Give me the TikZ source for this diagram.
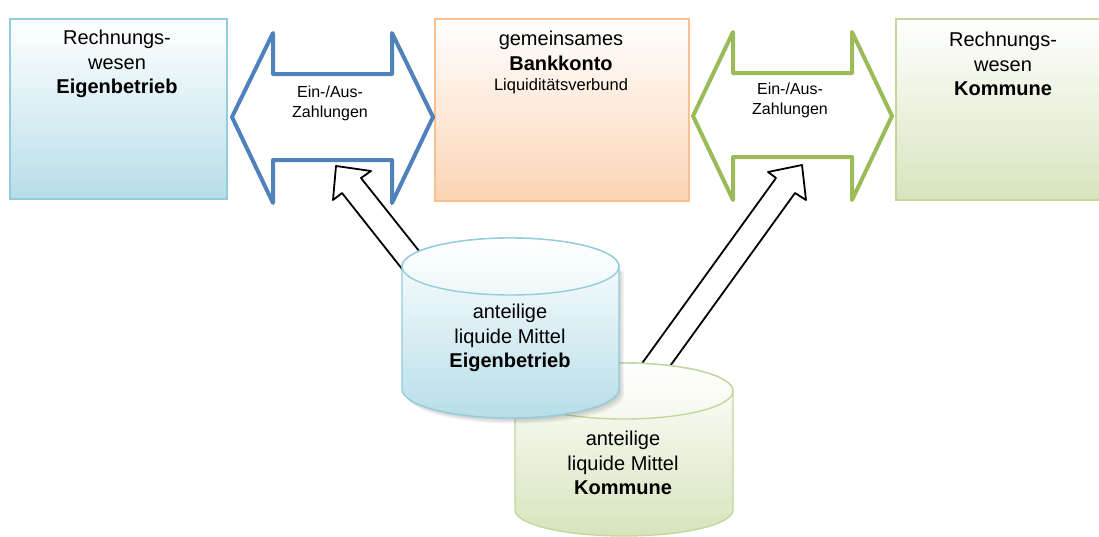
\documentclass[tikz,border=0pt]{standalone}
\usepackage{fontspec}
\setmainfont{Liberation Sans}
\definecolor{ebline}{HTML}{93CDDD}
\definecolor{ebfill}{HTML}{B7DEE8}
\definecolor{bkline}{HTML}{FAC090}
\definecolor{bkfill}{HTML}{FBD4B4}
\definecolor{koline}{HTML}{C3D69B}
\definecolor{kofill}{HTML}{D7E4BD}
\definecolor{flowblue}{HTML}{4F81BD}
\definecolor{flowgreen}{HTML}{9BBB59}
\begin{document}
\begin{tikzpicture}[x=1pt,y=1pt,
  panel/.style={draw, line width=1.6pt, top color=white, inner sep=0pt},
  twoway/.style={line width=4pt, line join=round, fill=white},
  feed/.style={draw=black, line width=1.8pt, line join=round, fill=white},
  bigtext/.style={font=\fontsize{20}{24.5}\selectfont, align=center, inner sep=0pt},
  flowtext/.style={font=\fontsize{16}{20}\selectfont, align=center, inner sep=0pt}]
\useasboundingbox (0,0) rectangle (1099,-536);
\clip (0,0) rectangle (1099,-536);

% three account panels
\node[panel, draw=ebline, bottom color=ebfill, minimum width=217, minimum height=180] (rweb) at (118.5,-109) {};
\node[panel, draw=bkline, bottom color=bkfill, minimum width=254, minimum height=182] (bank) at (562,-110) {};
\node[panel, draw=koline, bottom color=kofill, minimum width=214, minimum height=181] (rwko) at (1003,-109.5) {};

\node[bigtext] (trweb) at (117,-64) {Rechnungs-\\wesen\\\textbf{Eigenbetrieb}};
\node[bigtext] (tbank) at (561,-51) {gemeinsames\\\textbf{Bankkonto}};
\node[font=\fontsize{16.5}{20}\selectfont, inner sep=0pt] (tliq) at (561,-86) {Liquiditätsverbund};
\node[bigtext] (trwko) at (1003,-64) {Rechnungs-\\wesen\\\textbf{Kommune}};

% payment flows between the panels
\draw[twoway, draw=flowblue] (232,-117) -- (273,-33) -- (273,-74) -- (392,-74) -- (392,-33)
  -- (433,-117) -- (392,-203) -- (392,-160) -- (273,-160) -- (273,-203) -- cycle;
\node[flowtext] (flwl) at (330,-103) {Ein-/Aus-\\Zahlungen};
\draw[twoway, draw=flowgreen] (693,-116) -- (733,-32) -- (733,-73) -- (852,-73) -- (852,-32)
  -- (892,-116) -- (852,-200) -- (852,-157) -- (733,-157) -- (733,-200) -- cycle;
\node[flowtext] (flwr) at (790,-100) {Ein-/Aus-\\Zahlungen};

% feeding arrows from the liquid funds
\draw[feed] (410,-279) -- (342,-193) -- (333,-200) -- (336,-166) -- (371,-171) -- (361,-178) -- (427,-261) -- cycle;
\draw[feed] (630,-380) -- (776,-178) -- (768,-172) -- (802,-165) -- (806,-200) -- (795,-193) -- (660,-380) -- cycle;

% cylinder: Kommune
\path[draw=koline, line width=1.4pt, top color=white, bottom color=kofill]
  (515,-391) -- (515,-510) arc[start angle=180, end angle=360, x radius=109, y radius=26]
  -- (733,-391) arc[start angle=0, end angle=180, x radius=109, y radius=28] -- cycle;
\draw[koline, line width=1.4pt, top color=white, bottom color=kofill!25] (624,-391) ellipse[x radius=109, y radius=28];
\node[bigtext] (cyko) at (623,-463) {anteilige\\liquide Mittel\\\textbf{Kommune}};

% soft shadow under the Eigenbetrieb cylinder
\foreach \s in {2,4,6,8}{
  \fill[black, opacity=0.05]
    ([xshift=\s*0.6, yshift=-\s*0.7]402,-266.5) -- ([xshift=\s*0.6, yshift=-\s*0.7]402,-389)
    arc[start angle=180, end angle=360, x radius=108.5, y radius=29]
    -- ([xshift=\s*0.6, yshift=-\s*0.7]619,-266.5) -- cycle;
}

% cylinder: Eigenbetrieb
\path[draw=ebline, line width=1.4pt, top color=white, bottom color=ebfill]
  (402,-266.5) -- (402,-389) arc[start angle=180, end angle=360, x radius=108.5, y radius=29]
  -- (619,-266.5) arc[start angle=0, end angle=180, x radius=108.5, y radius=28.5] -- cycle;
\draw[ebline, line width=1.4pt, top color=white, bottom color=ebfill!25] (510.5,-266.5) ellipse[x radius=108.5, y radius=28.5];
\node[bigtext] (cyeb) at (510,-338) {anteilige\\liquide Mittel\\\textbf{Eigenbetrieb}};
\end{tikzpicture}
\end{document}
